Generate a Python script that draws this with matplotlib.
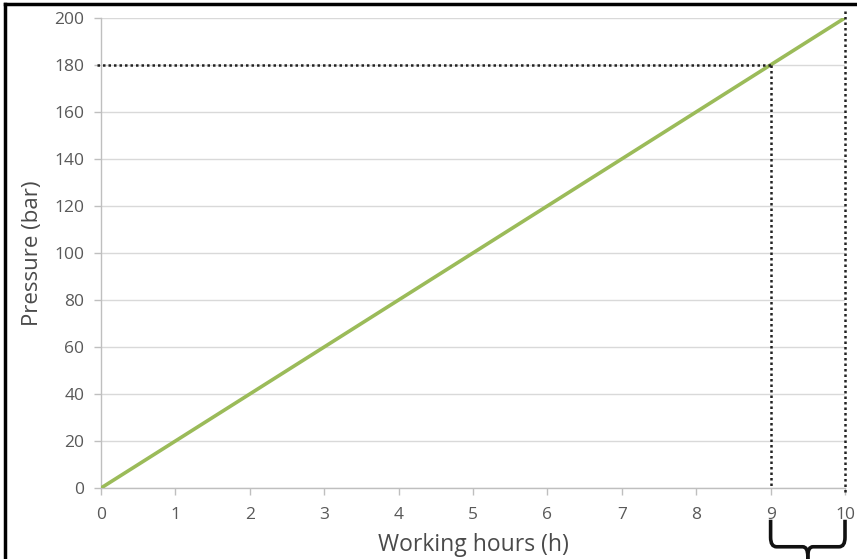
import numpy as np
import matplotlib.pyplot as plt
from matplotlib.lines import Line2D
from matplotlib.path import Path
from matplotlib.patches import PathPatch

hours = [0, 1, 2, 3, 4, 5, 6, 7, 8, 9, 10]
pressure = [0, 20, 40, 60, 80, 100, 120, 140, 160, 180, 200]
limit_hours = 9
limit_pressure = 180
max_hours = 10

plt.rcParams['font.family'] = ['Open Sans', 'DejaVu Sans']

fig = plt.figure(figsize=(8.57, 5.59), dpi=100)
ax = fig.add_axes([0.1179, 0.127, 0.8681, 0.841])

ax.plot(hours, pressure, color='#9BBB59', linewidth=2.6, solid_capstyle='butt', zorder=3)

# dotted guide lines
dot = dict(color='#222222', linestyle=(0, (1, 1.2)), linewidth=1.8, clip_on=False, zorder=4)
ax.plot([-0.05, limit_hours], [limit_pressure, limit_pressure], **dot)
ax.plot([limit_hours, limit_hours], [limit_pressure, 1], **dot)
ax.plot([max_hours, max_hours], [203, -2], **dot)

ax.set_xlim(0, 10)
ax.set_ylim(0, 200)
ax.set_xticks(hours)
ax.set_yticks(range(0, 201, 20))
ax.grid(axis='y', color='#D9D9D9', linewidth=1)
ax.set_axisbelow(True)
for s in ['top', 'right']:
    ax.spines[s].set_visible(False)
for s in ['left', 'bottom']:
    ax.spines[s].set_color('#BFBFBF')
    ax.spines[s].set_linewidth(1)
ax.tick_params(colors='#BFBFBF', labelcolor='#595959', labelsize=12.5, length=5, width=1)
ax.tick_params(axis='y', pad=7)
ax.tick_params(axis='x', pad=9)

ax.set_xlabel('Working hours (h)', fontsize=16.5, color='#4a4a4a', labelpad=7)
ax.set_ylabel('Pressure (bar)', fontsize=16, color='#4a4a4a', labelpad=8)

# curly brace under 9..10
x0, x1 = limit_hours, max_hours
xm = (x0 + x1) / 2
yt, yh, yb = -13.5, -25, -36
codes = [Path.MOVETO, Path.LINETO, Path.CURVE3, Path.CURVE3,
         Path.LINETO, Path.CURVE3, Path.CURVE3, Path.LINETO]
for xe, d in ((x0, 1), (x1, -1)):
    verts = [(xe, yt), (xe, yh + 4), (xe, yh), (xe + d * 0.08, yh),
             (xm - d * 0.07, yh), (xm, yh), (xm, yh - 4), (xm, yb)]
    ax.add_patch(PathPatch(Path(verts, codes), facecolor='none', edgecolor='#111111',
                           linewidth=2.6, clip_on=False))

# image frame
fig.add_artist(Line2D([0.006, 0.006], [0, 0.992], color='black', linewidth=2.5,
                      transform=fig.transFigure))
fig.add_artist(Line2D([0.006, 1.0], [0.992, 0.992], color='black', linewidth=2.5,
                      transform=fig.transFigure))

fig.savefig('out.png', dpi=100)
